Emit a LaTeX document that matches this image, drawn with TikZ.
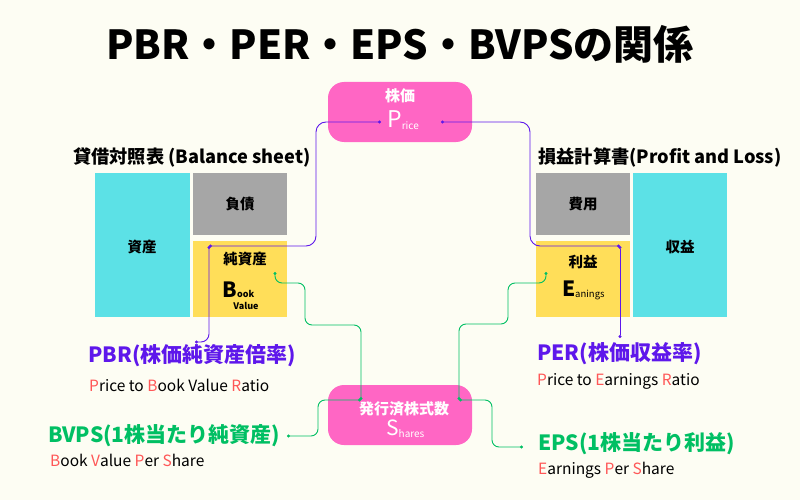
\documentclass[tikz,border=0pt]{standalone}
\usepackage{fontspec}
\setmainfont{Noto Sans CJK JP}
\usetikzlibrary{arrows.meta}
\definecolor{bg}{HTML}{FDFDF3}
\definecolor{pk}{HTML}{FF66C4}
\definecolor{cy}{HTML}{5CE1E6}
\definecolor{gy}{HTML}{A6A6A6}
\definecolor{ye}{HTML}{FFDE59}
\definecolor{pu}{HTML}{5E17EB}
\definecolor{gr}{HTML}{00BF63}
\definecolor{rd}{HTML}{FF5757}
\newcommand{\myfs}[1]{\fontsize{#1}{#1}\selectfont}
\newcommand{\rl}[1]{\textcolor{rd}{#1}}
\begin{document}
\begin{tikzpicture}[x=1pt,y=-1pt,
  blk/.style={anchor=north west,inner sep=0pt,outer sep=0pt},
  rbox/.style={blk,fill=pk,rounded corners=16pt,minimum width=144pt,minimum height=60pt},
  lbl/.style={inner sep=0pt,font=\myfs{14.5}\bfseries},
  wlbl/.style={inner sep=0pt,text=white,font=\myfs{15}\bfseries},
  sub/.style={anchor=west,inner sep=0pt,font=\myfs{15.5}},
  pline/.style={pu,line width=0.9pt,rounded corners=10pt,{Circle[length=3pt]}-{Circle[length=3pt]}},
  gline/.style={gr,line width=0.9pt,rounded corners=7pt,{Circle[length=3pt]}-{Circle[length=3pt]}}
]
\fill[bg] (0,0) rectangle (800,500);
\useasboundingbox (0,0) rectangle (800,500);

% title
\node[inner sep=0pt,font=\myfs{40}\bfseries] (title) at (400,44) {PBR・PER・EPS・BVPSの関係};

% balance sheet
\node[inner sep=0pt,font=\myfs{18.2}\bfseries] (bstitle) at (192,157) {貸借対照表 (Balance sheet)};
\node[blk,fill=cy,minimum width=95pt,minimum height=144pt] (asset) at (95,173) {};
\node[blk,fill=gy,minimum width=94pt,minimum height=62pt] (debt) at (193,173) {};
\node[blk,fill=ye,minimum width=94pt,minimum height=76pt] (equity) at (193,241) {};
\node[lbl] (assett) at (142,247) {資産};
\node[lbl] (debtt) at (240,204) {負債};
\node[lbl] (equityt) at (245,259) {純資産};
\node[inner sep=0pt,anchor=base west,font=\myfs{21}\bfseries] (bB) at (222,297) {B};
\node[inner sep=0pt,anchor=base west,font=\myfs{9}\bfseries] (bBook) at (237,297) {ook};
\node[inner sep=0pt,font=\myfs{9}\bfseries] (bValue) at (246,306) {Value};

% P/L
\node[inner sep=0pt,font=\myfs{18.2}\bfseries] (pltitle) at (660,157) {損益計算書(Profit and Loss)};
\node[blk,fill=gy,minimum width=94pt,minimum height=62pt] (cost) at (536,173) {};
\node[blk,fill=ye,minimum width=94pt,minimum height=76pt] (profit) at (536,241) {};
\node[blk,fill=cy,minimum width=94pt,minimum height=144pt] (revenue) at (633,173) {};
\node[lbl] (costt) at (583,204) {費用};
\node[lbl] (profitt) at (583,262) {利益};
\node[lbl] (revenuet) at (680,247) {収益};
\node[inner sep=0pt,anchor=base west,font=\myfs{21}\bfseries] (eE) at (562,296) {E};
\node[inner sep=0pt,anchor=base west,font=\myfs{9.5}] (eEarn) at (575,297) {anings};

% price box
\node[rbox] (price) at (328,82) {};
\node[wlbl] (pricet) at (400,96) {株価};
\node[inner sep=0pt,anchor=base west,text=white,font=\myfs{23}] (priceP) at (387,128) {P\raisebox{-2pt}{\myfs{10}rice}};

% shares box
\node[rbox] (shares) at (328,385) {};
\node[wlbl] (sharest) at (404,409) {発行済株式数};
\node[inner sep=0pt,anchor=base west,text=white,font=\myfs{21}] (sharesS) at (386,435) {S\raisebox{-2pt}{\myfs{10}hares}};

% labels
\node[inner sep=0pt,anchor=west,text=pu,font=\myfs{21}\bfseries] (pbr) at (88,356) {PBR(株価純資産倍率)};
\node[sub] (pbrs) at (89,385) {\rl{P}rice to \rl{B}ook Value \rl{R}atio};
\node[inner sep=0pt,anchor=west,text=gr,font=\myfs{21}\bfseries] (bvps) at (48,436) {BVPS(1株当たり純資産)};
\node[sub] (bvpss) at (50,460) {\rl{B}ook \rl{V}alue \rl{P}er \rl{S}hare};
\node[inner sep=0pt,anchor=west,text=pu,font=\myfs{21}\bfseries] (per) at (537,354) {PER(株価収益率)};
\node[sub] (pers) at (537,381) {\rl{P}rice to \rl{E}arnings \rl{R}atio};
\node[inner sep=0pt,anchor=west,text=gr,font=\myfs{21}\bfseries] (eps) at (538,444) {EPS(1株当たり利益)};
\node[sub] (epss) at (538,470) {\rl{E}arnings \rl{P}er \rl{S}hare};

% connection points
\coordinate (pL) at (381,122);
\coordinate (pR) at (441,122);
\coordinate (bvP) at (209,246);
\coordinate (pbrP) at (195,342);
\coordinate (eP) at (620,246);
\coordinate (perP) at (620,338);
\coordinate (bvG) at (275,272);
\coordinate (sL) at (361,400);
\coordinate (bvpsP) at (287,436);
\coordinate (eG) at (546,272);
\coordinate (sR) at (459,400);
\coordinate (epsP) at (523,447);

% connectors
\draw[pline] (pL) -- (316,122) -- (316,246) -- (bvP);
\draw[pline,rounded corners=8pt] (bvP) -- (209,342) -- (pbrP);
\draw[pline] (pR) -- (530,122) -- (530,246) -- (eP);
\draw[pline] (eP) -- (perP);
\draw[gline] (bvG) -- (275,283) -- (305,283) -- (305,325) -- (361,325) -- (sL);
\draw[gline] (sL) -- (318,400) -- (318,436) -- (bvpsP);
\draw[gline] (eG) -- (546,283) -- (508,283) -- (508,324) -- (459,324) -- (sR);
\draw[gline] (sR) -- (492,400) -- (492,447) -- (epsP);
\end{tikzpicture}
\end{document}
